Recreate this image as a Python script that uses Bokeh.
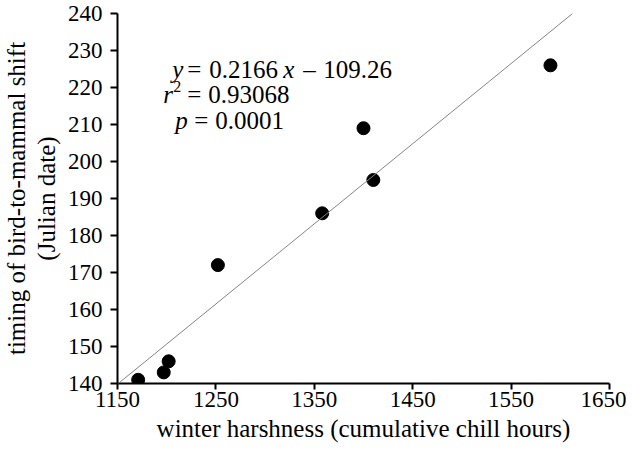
from bokeh.plotting import figure
from bokeh.models import Range1d, Slope, Label, FixedTicker
from bokeh.embed import file_html
from bokeh.resources import INLINE

# data
chill_hours = [1171, 1197, 1202, 1252, 1358, 1400, 1410, 1590]
shift_date = [141, 143, 146, 172, 186, 209, 195, 226]
slope = 0.2166
intercept = -109.26
x_ticks = [1150, 1250, 1350, 1450, 1550, 1650]
y_ticks = [140, 150, 160, 170, 180, 190, 200, 210, 220, 230, 240]

FONT = "Liberation Serif"

p = figure(output_backend="svg", toolbar_location=None,
           x_range=Range1d(1150, 1650), y_range=Range1d(140, 240),
           min_border_left=115, min_border_right=17, min_border_top=13, min_border_bottom=68,
           frame_width=492, frame_height=370)
p.outline_line_color = None
p.xgrid.visible = False
p.ygrid.visible = False
p.background_fill_color = "white"
p.border_fill_color = "white"

for ax in (p.xaxis[0], p.yaxis[0]):
    ax.axis_line_width = 2
    ax.axis_line_color = "black"
    ax.major_tick_line_width = 2
    ax.major_tick_line_color = "black"
    ax.minor_tick_line_color = None
    ax.major_tick_in = 0
    ax.major_label_text_font = FONT
    ax.major_label_text_font_size = "23px"
    ax.major_label_text_color = "black"
    ax.axis_label_text_font = FONT
    ax.axis_label_text_font_size = "25px"
    ax.axis_label_text_font_style = "normal"
    ax.axis_label_text_color = "black"

p.xaxis.ticker = FixedTicker(ticks=x_ticks)
p.yaxis.ticker = FixedTicker(ticks=y_ticks)
p.xaxis.major_tick_out = 6
p.yaxis.major_tick_out = 7
p.xaxis.major_label_standoff = 2
p.yaxis.major_label_standoff = 8
p.xaxis.axis_label = "winter harshness (cumulative chill hours)"
p.yaxis.axis_label = "timing of bird-to-mammal shift\n(Julian date)"
p.yaxis.axis_label_text_line_height = 1.1
p.xaxis.axis_label_standoff = 5
p.yaxis.axis_label_standoff = 5

p.add_layout(Slope(gradient=slope, y_intercept=intercept, line_color="#858585", line_width=1))
p.scatter(chill_hours, shift_date, size=13, color="black")

def lab(x, y, text, xo=0, yo=0, style="normal", size="25px"):
    p.add_layout(Label(x=x, y=y, x_offset=xo, y_offset=yo, text=text,
                       text_font=FONT, text_font_size=size, text_font_style=style,
                       text_color="black", text_baseline="alphabetic", text_align="left"))

x0 = 1207.6
# line 1: y = 0.2166x - 109.26
y1 = 224.8
lab(x0, y1, "y", xo=-2, style="italic")
lab(x0, y1, "=", xo=13)
lab(x0, y1, "0.2166", xo=35)
lab(x0, y1, "x", xo=109, style="italic")
lab(x0, y1, "\u2013", xo=129)
lab(x0, y1, "109.26", xo=149)
# line 2: r^2 = 0.93068
y2 = 218.0
lab(x0, y2, "r", xo=-11, style="italic")
lab(x0, y2, "2", xo=-1, yo=8, size="16px")
lab(x0, y2, "=", xo=13)
lab(x0, y2, "0.93068", xo=34)
# line 3: p = 0.0001
y3 = 211.0
lab(x0, y3, "p", xo=1, style="italic")
lab(x0, y3, "=", xo=20)
lab(x0, y3, "0.0001", xo=41)

open("out.html", "w").write(file_html(p, INLINE))
